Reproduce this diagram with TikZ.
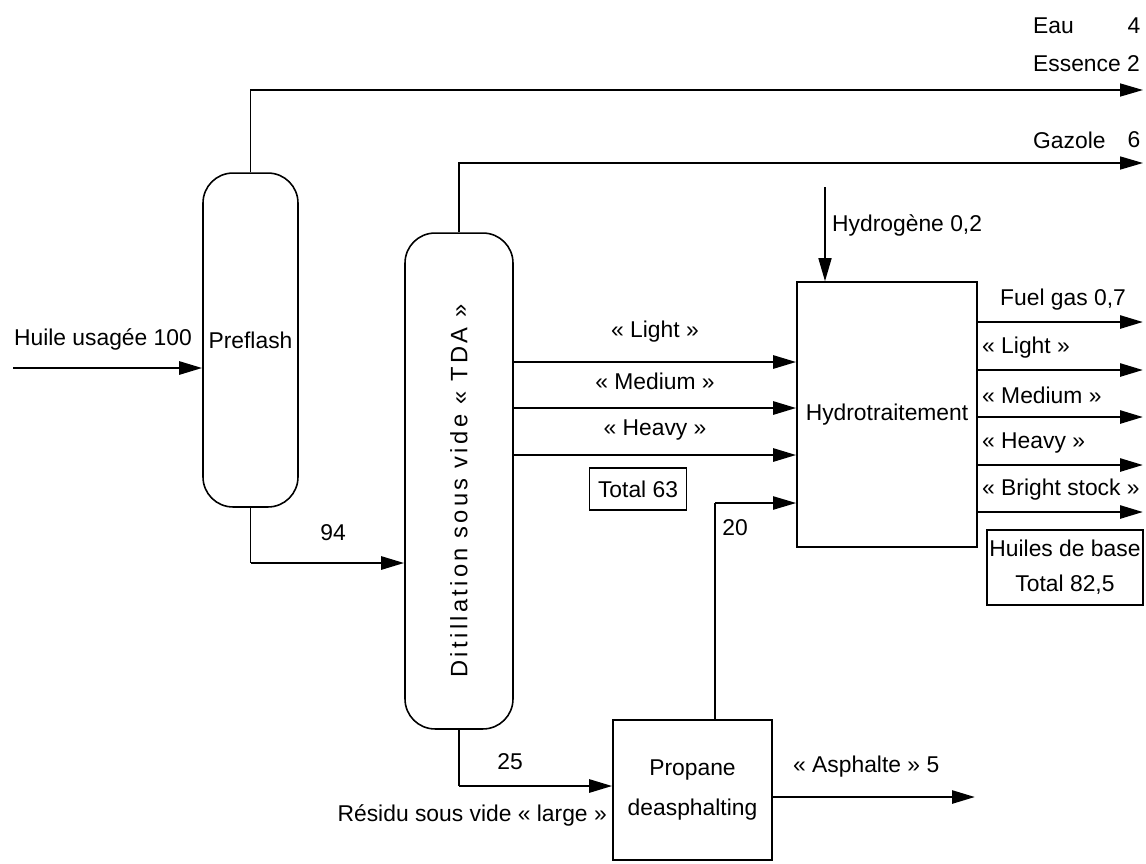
\documentclass[tikz,border=0pt]{standalone}
\usepackage{fontspec}
\setmainfont{Liberation Sans}
\usetikzlibrary{positioning,arrows.meta,calc}

\begin{document}
\begin{tikzpicture}[x=0.02cm,y=-0.02cm,
 font=\fontsize{13}{19}\selectfont,
 tip/.style={-{Triangle[length=4.6mm,width=2.6mm]}},
 flow/.style={tip,line width=1.5pt},
 pipe/.style={line width=0.9pt},
 unit/.style={draw,line width=0.9pt,align=center,inner sep=1pt},
 column/.style={unit,rounded corners=0.6cm},
 tag/.style={draw,line width=0.8pt,align=center,inner sep=1.5pt}]
\useasboundingbox (0,0) rectangle (1146,863);
% Process units.
\node[column,minimum width=1.9cm,minimum height=6.68cm] (preflash) at (250.5,340) {Preflash};
\node[column,minimum width=2.16cm,minimum height=9.92cm] (tda) at (459,481) {};
\node[rotate=90,font=\fontsize{13.5}{16}\selectfont\addfontfeature{LetterSpace=14}]
  (tdalbl) at (459,491) {Ditillation sous vide «~TDA~»};
\node[unit,minimum width=3.6cm,minimum height=5.3cm] (hydro) at (887,414.5) {Hydrotraitement};
\node[unit,minimum width=3.18cm,minimum height=2.8cm,font=\fontsize{13}{23}\selectfont]
  (propane) at (692.5,790) {Propane\\deasphalting};
\node[tag,minimum width=1.94cm,minimum height=0.84cm] (total63) at (638,489) {Total 63};
\node[tag,minimum width=3.12cm,minimum height=1.5cm,font=\fontsize{13}{20}\selectfont]
  (bases) at (1065,567.5) {Huiles de base\\Total 82,5};
% Feed.
\coordinate (feed) at (13,368);
\draw[flow] (feed) -- (feed -| preflash.west);
\node (feedlbl) at (103,339) {Huile usagée 100};
% Light ends and gas oil.
\coordinate (lights) at (1143,90);
\draw[pipe,tip] (preflash.north) |- (lights);
\node[anchor=west] (eau) at (1027,26) {Eau};
\node (eauval) at (1134,26) {4};
\node[anchor=west] (essence) at (1027,64) {Essence 2};
\coordinate (gazole) at (1143,163);
\draw[pipe,tip] (tda.north) |- (gazole);
\node[anchor=west] (gazlbl) at (1027,140) {Gazole};
\node (gazval) at (1134,140) {6};
% Preflash bottoms to vacuum column.
\coordinate (bend94) at (preflash.south |- 0,563);
\draw[pipe] (preflash.south) -- (bend94);
\draw[flow] (bend94) -- (bend94 -| tda.west);
\node (n94) at (333,533) {94};
% Distillate cuts.
\foreach \y/\cut/\ly in {362/Light/332,408/Medium/381,455/Heavy/430}{
  \draw[flow] (tda.east |- 0,\y) -- (hydro.west |- 0,\y);
  \node (cut\cut) at (655,\ly) {«~\cut~»};
}
% Hydrogen make-up.
\coordinate (h2) at (825,187);
\draw[pipe,tip] (h2) -- (h2 |- hydro.north);
\node[anchor=west] (h2lbl) at (826,225) {Hydrogène 0,2};
% Deasphalted oil back to hydrotreating.
\coordinate (dao) at (715,503);
\draw[pipe] (dao |- propane.north) -- (dao);
\draw[tip,line width=1.2pt] (dao) -- (dao -| hydro.west);
\node (n20) at (735,528) {20};
% Vacuum residue.
\coordinate (bend25) at (tda.south |- 0,786);
\draw[pipe] (tda.south) -- (bend25);
\draw[flow] (bend25) -- (bend25 -| propane.west);
\node (n25) at (510,762) {25};
\node[anchor=east] (residu) at (613,815) {Résidu sous vide «~large~»};
\coordinate (asph) at (975,797);
\draw[flow] (asph -| propane.east) -- (asph);
\node[anchor=west] (asphlbl) at (787,767) {«~Asphalte~» 5};
% Base oils.
\foreach \y/\lab/\lx [count=\i] in {322/{Fuel gas 0,7}/994,370/{«~Light~»}/976,
    417/{«~Medium~»}/976,465/{«~Heavy~»}/976,512/{«~Bright stock~»}/976}{
  \coordinate (prod\i) at (1143,\y);
  \draw[flow] (hydro.east |- prod\i) -- (prod\i);
  \node[anchor=west] (prodlbl\i) at (\lx,\y-22) {\lab};
}
\end{tikzpicture}
\end{document}
